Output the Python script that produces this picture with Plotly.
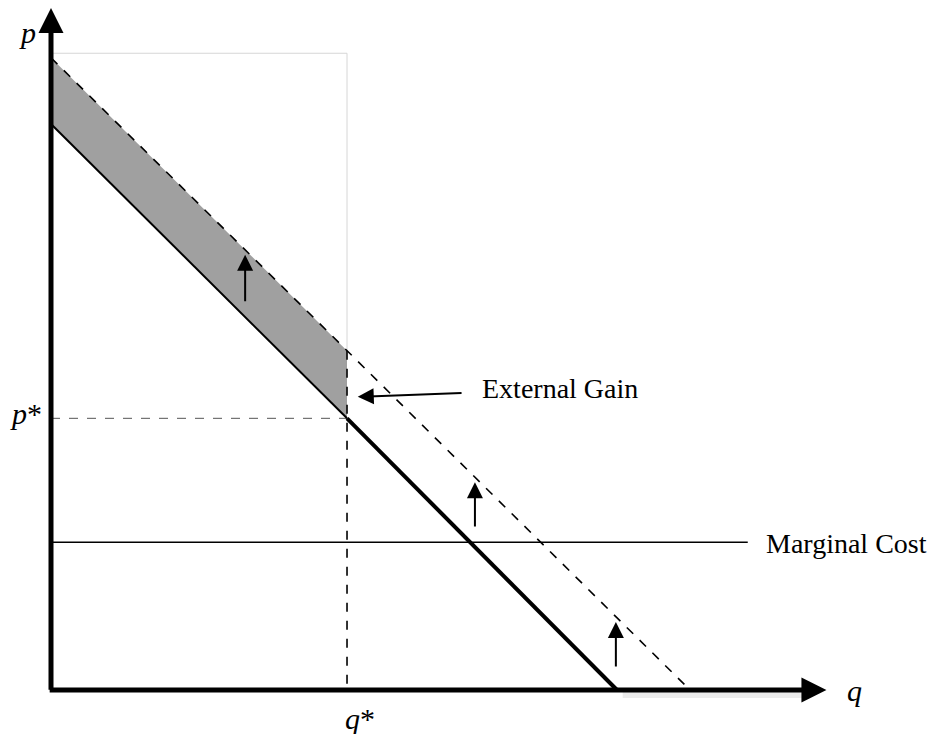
import plotly.graph_objects as go

# ---- data (economic units) ----
private_demand_q = [0.0, 10.0]
private_demand_p = [10.0, 0.0]
social_demand_q = [0.0, 11.29]
social_demand_p = [11.17, 0.0]
marginal_cost = 2.61
mc_q_end = 12.31
q_star = 5.23
p_star = 4.80
frame_top = 11.25
axis_q_max = 13.7
axis_p_max = 12.05
shift_arrow_q = [3.43, 7.49, 9.98]
shift_arrow_from = [6.84, 2.86, 0.39]
shift_arrow_to = [7.69, 3.67, 1.20]
gain_arrow_tail = (7.28, 5.25)
gain_arrow_head = (5.42, 5.18)

def social_at(q):
    return social_demand_p[0] * (1 - q / social_demand_q[1])

s_star = social_at(q_star)

fig = go.Figure()

# shaded external gain area
fig.add_trace(go.Scatter(
    x=[0, 0, q_star, q_star, 0],
    y=[private_demand_p[0], social_demand_p[0], s_star, p_star, private_demand_p[0]],
    fill="toself", fillcolor="#a0a0a0", line=dict(width=0), mode="lines",
    hoverinfo="skip"))

# light grey frame
fig.add_trace(go.Scatter(
    x=[0, q_star, q_star], y=[frame_top, frame_top, s_star],
    mode="lines", line=dict(color="#d6d6d6", width=1), hoverinfo="skip"))

# p* dashed
fig.add_trace(go.Scatter(
    x=[0, q_star], y=[p_star, p_star], mode="lines",
    line=dict(color="#555555", width=1, dash="dash"), hoverinfo="skip"))

# q* dashed
fig.add_trace(go.Scatter(
    x=[q_star, q_star], y=[s_star, 0], mode="lines",
    line=dict(color="black", width=1.6, dash="dash"), hoverinfo="skip"))

# social demand dashed
fig.add_trace(go.Scatter(
    x=social_demand_q, y=social_demand_p, mode="lines",
    line=dict(color="black", width=1.6, dash="dash"), hoverinfo="skip"))

# marginal cost
fig.add_trace(go.Scatter(
    x=[0, mc_q_end], y=[marginal_cost, marginal_cost], mode="lines",
    line=dict(color="black", width=1.6), hoverinfo="skip"))

# private demand: thin then thick
fig.add_trace(go.Scatter(
    x=[private_demand_q[0], q_star], y=[private_demand_p[0], p_star], mode="lines",
    line=dict(color="black", width=2), hoverinfo="skip"))
fig.add_trace(go.Scatter(
    x=[q_star, private_demand_q[1]], y=[p_star, private_demand_p[1]], mode="lines",
    line=dict(color="black", width=4), hoverinfo="skip"))

# soft shadow under x axis right part
fig.add_trace(go.Scatter(
    x=[private_demand_q[1] + 0.1, axis_q_max - 0.3], y=[-0.08, -0.08], mode="lines",
    line=dict(color="rgba(0,0,0,0.08)", width=7), hoverinfo="skip"))

ann = []
# axes arrows
ann.append(dict(x=0, y=axis_p_max, ax=0, ay=-0.02, xref="x", yref="y", axref="x", ayref="y",
                text="", showarrow=True, arrowhead=2, arrowsize=1.0, arrowwidth=5,
                arrowcolor="black", standoff=0))
ann.append(dict(x=axis_q_max, y=0, ax=-0.05, ay=0, xref="x", yref="y", axref="x", ayref="y",
                text="", showarrow=True, arrowhead=2, arrowsize=1.0, arrowwidth=5,
                arrowcolor="black", standoff=0))
# shift arrows
for q, a, b in zip(shift_arrow_q, shift_arrow_from, shift_arrow_to):
    ann.append(dict(x=q, y=b, ax=q, ay=a, xref="x", yref="y", axref="x", ayref="y",
                    text="", showarrow=True, arrowhead=2, arrowsize=1.6, arrowwidth=2,
                    arrowcolor="black", standoff=0))
# external gain arrow
ann.append(dict(x=gain_arrow_head[0], y=gain_arrow_head[1], ax=gain_arrow_tail[0], ay=gain_arrow_tail[1],
                xref="x", yref="y", axref="x", ayref="y",
                text="", showarrow=True, arrowhead=2, arrowsize=1.6, arrowwidth=2,
                arrowcolor="black", standoff=0))

font = "Liberation Serif, Times New Roman, serif"
def label(text, x, y, xanchor, size=28):
    ann.append(dict(x=x, y=y, xref="x", yref="y", text=text, showarrow=False,
                    xanchor=xanchor, yanchor="middle",
                    font=dict(family=font, size=size, color="black")))

label("<i>p</i>", -0.42, 11.62, "center", 30)
label("<i>p</i>*", -0.12, 4.88, "right", 30)
label("<i>q</i>", 14.2, 0.0, "center", 30)
label("<i>q</i>*", 5.46, -0.5, "center", 30)
label("External Gain", 7.58, 5.32, "left", 28)
label("Marginal Cost", 12.6, 2.58, "left", 28)

fig.update_layout(
    width=932, height=734,
    margin=dict(l=0, r=0, t=0, b=0),
    paper_bgcolor="white", plot_bgcolor="white",
    showlegend=False,
    annotations=ann,
    xaxis=dict(visible=False, range=[-51 / 56.6, 881 / 56.6], fixedrange=True),
    yaxis=dict(visible=False, range=[-44 / 56.6, 690 / 56.6], fixedrange=True),
)

fig.write_html("out.html", config={"displayModeBar": False},
               post_script="document.body.style.margin='0';document.body.style.overflow='hidden';")
